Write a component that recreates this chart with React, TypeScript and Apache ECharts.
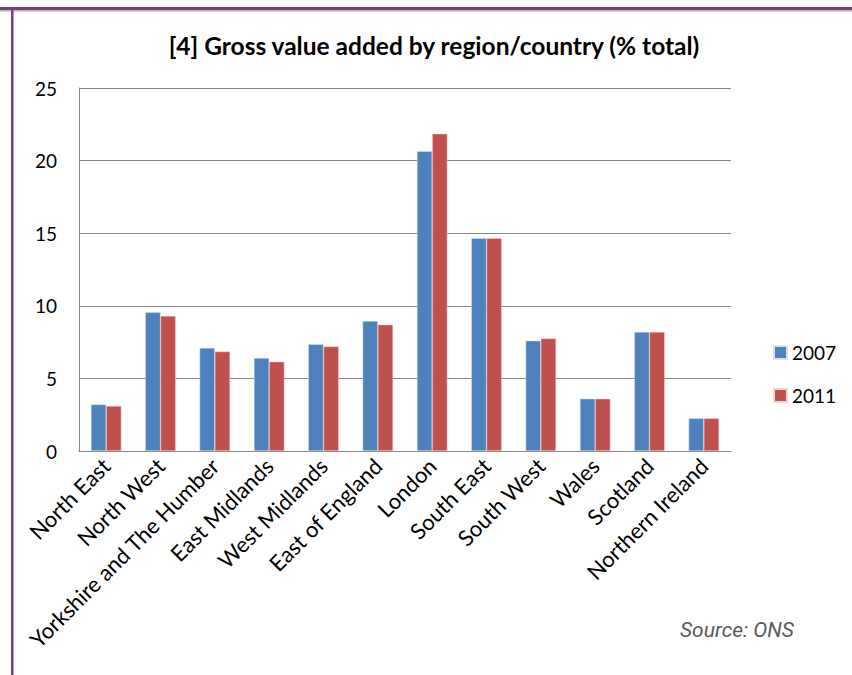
import React, { useEffect, useRef } from "react";
import * as echarts from "echarts";

const categories = [
  "North East",
  "North West",
  "Yorkshire and The Humber",
  "East Midlands",
  "West Midlands",
  "East of England",
  "London",
  "South East",
  "South West",
  "Wales",
  "Scotland",
  "Northern Ireland",
];
const values2007 = [3.2, 9.55, 7.1, 6.4, 7.35, 8.95, 20.65, 14.65, 7.6, 3.6, 8.2, 2.25];
const values2011 = [3.1, 9.3, 6.85, 6.15, 7.2, 8.7, 21.85, 14.65, 7.75, 3.6, 8.2, 2.25];
const seriesNames = ["2007", "2011"];
const titleText = "[4] Gross value added by region/country (% total)";
const sourceText = "Source: ONS";

export default function App() {
  const ref = useRef<HTMLDivElement>(null);
  useEffect(() => {
    if (!ref.current) return;
    const chart = echarts.init(ref.current, null, { renderer: "svg" });
    const font = "Lato, 'Liberation Sans', sans-serif";
    chart.setOption({
      animation: false,
      backgroundColor: "#ffffff",
      textStyle: { fontFamily: font },
      grid: { left: 79, right: 121, top: 88, bottom: 224, containLabel: false },
      legend: {
        orient: "vertical",
        left: 768,
        top: 338,
        itemWidth: 13,
        itemHeight: 13,
        itemGap: 24,
        icon: "rect",
        data: seriesNames,
        textStyle: { fontSize: 19, color: "#000", fontFamily: font },
      },
      xAxis: {
        type: "category",
        data: categories,
        axisLine: { show: true, lineStyle: { color: "#868686", width: 1 } },
        axisTick: { show: false },
        axisLabel: {
          interval: 0,
          rotate: 45,
          fontSize: 22,
          color: "#000",
          margin: 11,
          fontFamily: font,
        },
      },
      yAxis: {
        type: "value",
        min: 0,
        max: 25,
        interval: 5,
        axisLine: { show: true, lineStyle: { color: "#868686", width: 1 } },
        axisTick: { show: false },
        splitLine: { show: true, lineStyle: { color: "#868686", width: 1 } },
        axisLabel: { fontSize: 19, color: "#000", margin: 22, fontFamily: font },
      },
      series: [
        {
          name: seriesNames[0],
          type: "bar",
          data: values2007,
          barGap: "0%",
          barCategoryGap: "44%",
          itemStyle: { color: "#4F81BD", borderColor: "#d6e1ef", borderWidth: 0.5 },
        },
        {
          name: seriesNames[1],
          type: "bar",
          data: values2011,
          barGap: "0%",
          barCategoryGap: "44%",
          itemStyle: { color: "#C0504D", borderColor: "#f0d4d3", borderWidth: 0.5 },
        },
      ],
      graphic: [
        { type: "rect", shape: { x: 0, y: 7, width: 852, height: 3 }, style: { fill: "#7B3C8C" }, silent: true },
        { type: "rect", shape: { x: 0, y: 10, width: 852, height: 1.5 }, style: { fill: "#b3b3b3" }, silent: true },
        { type: "rect", shape: { x: 11, y: 7, width: 2.5, height: 668 }, style: { fill: "#7B3C8C" }, silent: true },
        {
          type: "text",
          x: 434,
          y: 45,
          style: {
            text: titleText,
            fontSize: 24.5,
            fontWeight: "bold",
            fontFamily: font,
            fill: "#000",
            align: "center",
            verticalAlign: "middle",
          },
        },
        {
          type: "text",
          x: 680,
          y: 630,
          style: {
            text: sourceText,
            fontSize: 21,
            fontStyle: "italic",
            fontFamily: "Roboto, 'Liberation Sans', sans-serif",
            fill: "#595959",
            align: "left",
            verticalAlign: "middle",
          },
        },
      ],
    });
    return () => chart.dispose();
  }, []);
  return (
    <div
      ref={ref}
      style={{ position: "fixed", left: 0, top: 0, width: 852, height: 675, background: "#fff" }}
    />
  );
}
